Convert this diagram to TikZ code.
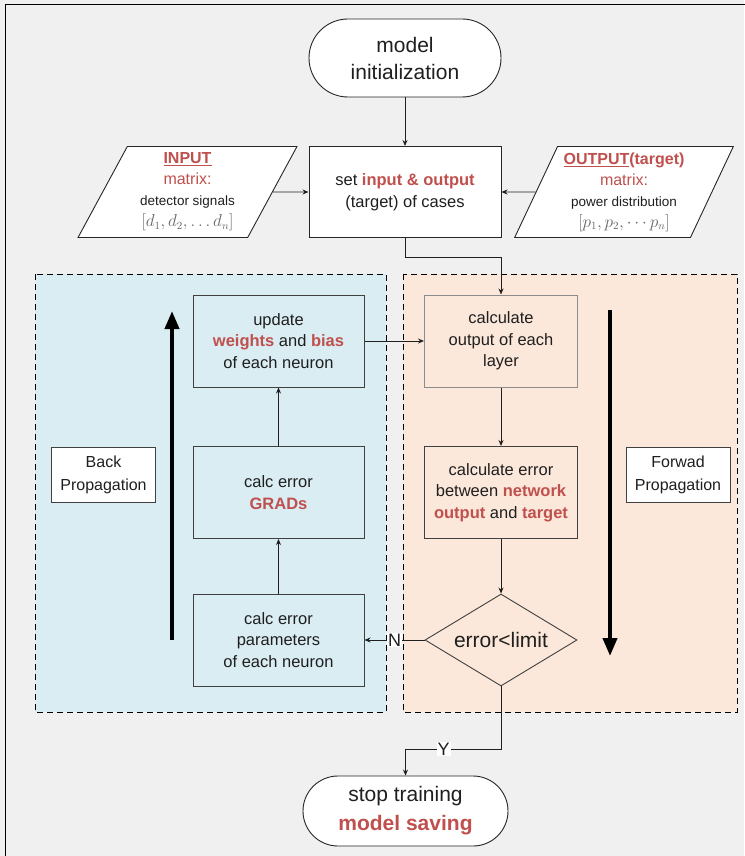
\documentclass[tikz,border=0pt]{standalone}
\usepackage{fontspec}
\setmainfont{Liberation Sans}
\usetikzlibrary{shapes.geometric, arrows.meta, calc}
\definecolor{bggray}{RGB}{240,240,240}
\definecolor{bpblue}{RGB}{218,237,243}
\definecolor{fporange}{RGB}{252,232,218}
\definecolor{hired}{RGB}{192,80,77}
\definecolor{edgegray}{RGB}{64,64,64}
\newcommand{\hl}[1]{\textcolor{hired}{\textbf{#1}}}

\begin{document}
\begin{tikzpicture}[x=1pt, y=-1pt,
    every node/.style={text=black!88},
    link/.style={-{Stealth[length=6pt,width=5pt]}, line width=0.8pt, draw=black!88},
    bigarrow/.style={-{Triangle[length=18pt,width=14pt]}, line width=4pt},
    stadium/.style={draw=black!85, line width=0.9pt, fill=white, align=center, inner sep=0pt},
    procbox/.style={draw=edgegray, line width=1pt, align=center, inner sep=0pt, font=\fontsize{16.5}{21.5}\selectfont},
    iobox/.style={trapezium, trapezium left angle=63.7, trapezium right angle=116.3, trapezium stretches=true,
      draw=black!85, line width=0.9pt, fill=white, minimum width=219pt, minimum height=91pt, inner sep=0pt,
      align=center, font=\fontsize{13.5}{21}\selectfont},
    tagbox/.style={draw=edgegray, line width=0.9pt, fill=white, align=center, minimum width=104pt, minimum height=55pt,
      inner sep=0pt, font=\fontsize{16}{23}\selectfont}]
  \useasboundingbox (0,0) rectangle (744,856);
  \fill[bggray] (0,0) rectangle (744,856);
  \draw[line width=0.9pt] (5,860) -- (5,4) -- (750,4);
  % Regions
  \draw[dash pattern=on 6pt off 4pt, line width=0.8pt, fill=bpblue] (35,274) rectangle (386,712);
  \draw[dash pattern=on 6pt off 4pt, line width=0.8pt, fill=fporange] (403,274) rectangle (737,712);
  % Top part
  \node[stadium, minimum width=192pt, minimum height=78pt, rounded corners=39pt, font=\fontsize{21}{27}\selectfont]
    (init) at (405,58) {model\\initialization};
  \node[procbox, fill=white, minimum width=192pt, minimum height=91pt, draw=black!85] (setio) at (405,192)
    {set \hl{input \& output}\\(target) of cases};
  \node[iobox] (inmat) at (187.5,192)
    {{\fontsize{16}{21}\selectfont\textcolor{hired}{\textbf{\underline{INPUT}}}}\\
     {\fontsize{16}{21}\selectfont\textcolor{hired}{matrix:}}\\
     detector signals\\
     {\fontsize{16}{21}\selectfont\textcolor{black!60}{$\left[d_1,d_2,\ldots d_n\right]$}}};
  \node[iobox] (outmat) at (624,192)
    {{\fontsize{16}{21}\selectfont\textcolor{hired}{\textbf{\underline{OUTPUT}(target)}}}\\
     {\fontsize{16}{21}\selectfont\textcolor{hired}{matrix:}}\\
     power distribution\\
     {\fontsize{16}{21}\selectfont\textcolor{black!60}{$\left[p_1,p_2,\cdots p_n\right]$}}};
  % Back propagation
  \node[procbox, fill=bpblue, minimum width=171pt, minimum height=92pt] (update) at (278.5,341)
    {update\\\hl{weights} and \hl{bias}\\of each neuron};
  \node[procbox, fill=bpblue, minimum width=171pt, minimum height=92pt] (grads) at (278.5,492.5)
    {calc error\\\hl{GRADs}};
  \node[procbox, fill=bpblue, minimum width=171pt, minimum height=92pt] (param) at (278.5,640)
    {calc error\\parameters\\of each neuron};
  \node[tagbox] (backtag) at (103.5,474.5) {Back\\Propagation};
  % Forward propagation
  \node[procbox, fill=fporange, minimum width=153pt, minimum height=92pt, draw=black!45] (calcout) at (501,341)
    {calculate\\output of each\\layer};
  \node[procbox, fill=fporange, minimum width=153pt, minimum height=92pt] (calcerr) at (501,492.5)
    {calculate error\\between \hl{network}\\\hl{output} and \hl{target}};
  \node[diamond, aspect=1.69, draw=edgegray, line width=0.9pt, fill=fporange, inner sep=0pt,
    minimum width=152pt, minimum height=92pt, font=\fontsize{21}{25}\selectfont] (check) at (501,640) {error<limit};
  \node[tagbox] (fwdtag) at (678,474.5) {Forwad\\Propagation};
  % End
  \node[stadium, minimum width=205pt, minimum height=70pt, rounded corners=35pt, font=\fontsize{21}{29}\selectfont]
    (stop) at (405.5,811) {stop training\\\hl{model saving}};
  % Arrows
  \draw[link] (init) -- (setio);
  \draw[link] (inmat.east) -- (setio.west);
  \draw[link] (outmat.west) -- (setio.east);
  \draw[link] (setio.south) -- ++(0,19) -| (calcout.north);
  \draw[link] (calcout) -- (calcerr);
  \draw[link] (calcerr) -- (check);
  \draw[link] (check.west) -- (param.east)
    node[midway, fill=white, inner sep=1pt, font=\fontsize{18}{20}\selectfont] (nlab) {N};
  \draw[link] (param) -- (grads);
  \draw[link] (grads) -- (update);
  \draw[link] (update.east) -- (calcout.west);
  \coordinate (ybend) at (501,749);
  \draw[link] (check.south) -- (ybend) -| (stop.north)
    node[pos=0.3, fill=white, inner sep=1pt, font=\fontsize{18}{20}\selectfont] (ylab) {Y};
  % Direction arrows
  \draw[bigarrow] (172,640) -- (172,311);
  \draw[bigarrow] (610,310) -- (610,656);
\end{tikzpicture}
\end{document}
